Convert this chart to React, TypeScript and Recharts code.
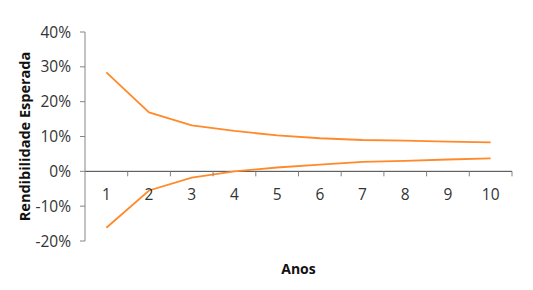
import { LineChart, Line, XAxis, YAxis, ReferenceLine, Label } from "recharts";

// Anos (horizonte de investimento)
const years = [1, 2, 3, 4, 5, 6, 7, 8, 9, 10];
// limite superior / inferior da rendibilidade esperada
const upper = [0.284, 0.169, 0.132, 0.116, 0.103, 0.095, 0.09, 0.088, 0.085, 0.083];
const lower = [-0.162, -0.055, -0.018, 0.0, 0.011, 0.019, 0.027, 0.03, 0.034, 0.037];
const yTicks = [-0.2, -0.1, 0, 0.1, 0.2, 0.3, 0.4];

const data = years.map((year, i) => ({ year, upper: upper[i], lower: lower[i] }));

const W = 533;
const H = 290;
const MARGIN = { top: 32, right: 21, bottom: 0, left: 0 };
const Y_AXIS_W = 85;
const X_AXIS_H = 49;
const PLOT_H = H - MARGIN.top - X_AXIS_H;
const PLOT_W = W - Y_AXIS_W - MARGIN.right;
const Y_MIN = -0.2;
const Y_MAX = 0.4;
// the category axis sits on the zero line, like in Excel
const ZERO_Y = MARGIN.top + (PLOT_H * Y_MAX) / (Y_MAX - Y_MIN);

const FONT = "'Open Sans', 'DejaVu Sans', sans-serif";
const ORANGE = "#ff8a2b";

function YearTick(props: any) {
  const { x, payload } = props;
  const step = PLOT_W / years.length;
  return (
    <g>
      <line x1={x + step / 2} x2={x + step / 2} y1={ZERO_Y} y2={ZERO_Y + 5} stroke="#808080" />
      <text
        x={x}
        y={ZERO_Y + 23}
        textAnchor="middle"
        dominantBaseline="central"
        fontSize={15.5}
        fontFamily={FONT}
        fill="#333"
      >
        {payload.value}
      </text>
    </g>
  );
}

export default function App() {
  return (
    <div style={{ position: "absolute", left: 0, top: 0, background: "#fff" }}>
      <LineChart width={W} height={H} data={data} margin={MARGIN}>
        <XAxis
          dataKey="year"
          type="number"
          domain={[0.5, 10.5]}
          ticks={years}
          interval={0}
          height={X_AXIS_H}
          axisLine={false}
          tickLine={false}
          tick={<YearTick />}
        >
          <Label
            value="Anos"
            position="insideBottom"
            offset={16}
            style={{ fontFamily: FONT, fontSize: 14, fontWeight: 700, fill: "#111" }}
          />
        </XAxis>
        <YAxis
          domain={[Y_MIN, Y_MAX]}
          ticks={yTicks}
          width={Y_AXIS_W}
          tickSize={5}
          tickMargin={9}
          axisLine={{ stroke: "#868686" }}
          tickLine={{ stroke: "#868686" }}
          tick={{ fontSize: 15.5, fontFamily: FONT, fill: "#333" }}
          tickFormatter={(v: number) => `${Math.round(v * 100)}%`}
        >
          <Label
            value="Rendibilidade Esperada"
            angle={-90}
            position="insideLeft"
            offset={25}
            style={{ fontFamily: FONT, fontSize: 14.5, fontWeight: 700, fill: "#111", textAnchor: "middle" }}
          />
        </YAxis>
        <ReferenceLine y={0} stroke="#404040" strokeWidth={1} />
        <Line dataKey="upper" stroke={ORANGE} strokeWidth={1.8} dot={false} isAnimationActive={false} />
        <Line dataKey="lower" stroke={ORANGE} strokeWidth={1.8} dot={false} isAnimationActive={false} />
      </LineChart>
    </div>
  );
}
